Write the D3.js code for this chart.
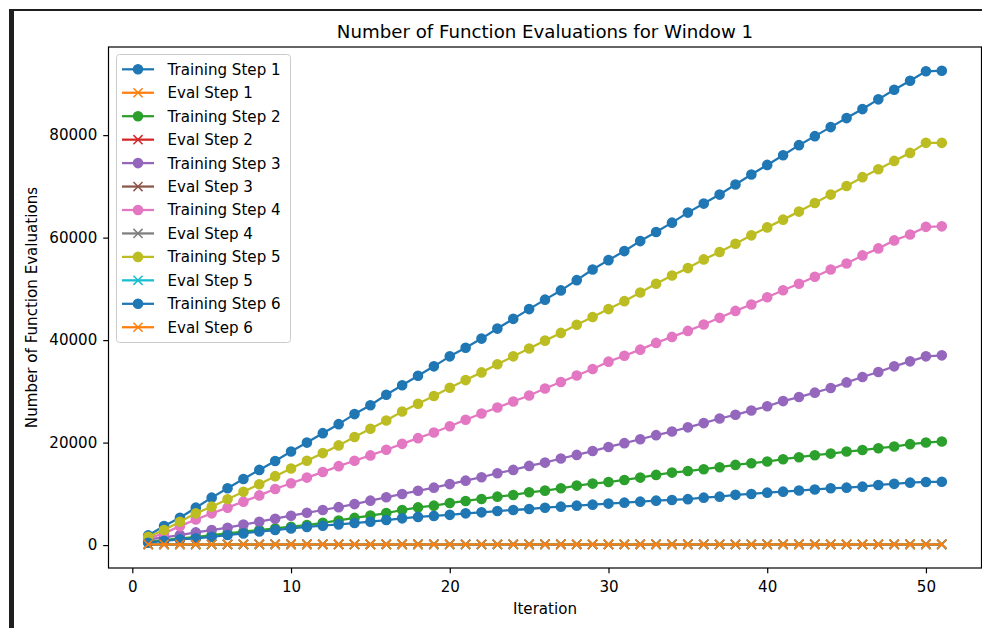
<!DOCTYPE html>
<html>
<head>
<meta charset="utf-8">
<script src="https://cdn.jsdelivr.net/npm/d3@7"></script>
<style>
  body { margin: 0; background: #fff; }
  svg { display: block; font-family: 'DejaVu Sans', sans-serif; }
</style>
</head>
<body>
<svg id="chart" width="982" height="628"></svg>
<script>
// values
const iterations = [1, 2, 3, 4, 5, 6, 7, 8, 9, 10, 11, 12, 13, 14, 15, 16, 17, 18, 19, 20,
  21, 22, 23, 24, 25, 26, 27, 28, 29, 30, 31, 32, 33, 34, 35, 36, 37, 38, 39, 40,
  41, 42, 43, 44, 45, 46, 47, 48, 49, 50, 51];

const trainingStep1 = [1890, 3716, 5346, 7302, 9259, 11084, 12900, 14670, 16400, 18256,
  20000, 21842, 23600, 25560, 27300, 29340, 31200, 33056, 34880, 36831,
  38500, 40294, 42250, 44146, 46050, 47900, 49700, 51700, 53790, 55609,
  57370, 59326, 61086, 62925, 64881, 66641, 68401, 70357, 72313, 74190,
  76088, 78044, 79805, 81565, 83326, 85086, 86983, 88860, 90622, 92460, 92578];

const trainingStep2 = [650, 978, 1304, 1560, 1956, 2282, 2608, 2934, 3260, 3586,
  3912, 4350, 4800, 5300, 5750, 6250, 6846, 7350, 7694, 8200,
  8606, 8998, 9454, 9780, 10302, 10628, 11084, 11606, 12000, 12300,
  12714, 13170, 13692, 14148, 14450, 14800, 15191, 15648, 15974, 16300,
  16756, 17148, 17539, 17850, 18250, 18550, 18908, 19227, 19697, 20010, 20205];

const trainingStep3 = [1110, 1500, 1956, 2478, 2934, 3390, 4000, 4564, 5150, 5737,
  6300, 6846, 7400, 8000, 8671, 9324, 9976, 10600, 11208, 11900,
  12577, 13242, 14025, 14670, 15452, 16098, 16900, 17604, 18350, 19150,
  19893, 20650, 21450, 22161, 22980, 23804, 24700, 25428, 26270, 27100,
  28100, 28890, 29750, 30650, 31746, 32802, 33780, 34876, 35853, 36831, 37027];

const trainingStep4 = [1300, 2290, 3700, 5000, 6194, 7300, 8476, 9700, 10954, 12062,
  13170, 14250, 15400, 16450, 17500, 18600, 19756, 20870, 21966, 23200,
  24450, 25683, 26856, 28030, 29200, 30550, 31824, 33100, 34350, 35795,
  36950, 38142, 39453, 40627, 41800, 43050, 44350, 45700, 46944, 48372,
  49741, 50993, 52362, 53790, 54964, 56528, 57898, 59462, 60600, 62100, 62200];

const trainingStep5 = [1624, 2934, 4564, 6194, 7498, 8950, 10400, 11866, 13450, 14950,
  16450, 17950, 19450, 21100, 22700, 24313, 26073, 27580, 29100, 30700,
  32200, 33703, 35300, 36832, 38350, 39900, 41408, 43000, 44500, 46050,
  47600, 49300, 50993, 52600, 54053, 55746, 57182, 58800, 60440, 62000,
  63510, 65075, 66758, 68400, 70084, 71800, 73350, 74973, 76538, 78494, 78494];

const trainingStep6 = [450, 841, 1110, 1304, 1624, 1956, 2282, 2650, 2934, 3260,
  3550, 3781, 4042, 4300, 4564, 4890, 5216, 5500, 5700, 5900,
  6194, 6390, 6650, 6846, 7042, 7298, 7498, 7694, 7890, 8100,
  8280, 8476, 8671, 8802, 8960, 9260, 9454, 9800, 9976, 10230,
  10432, 10650, 10850, 11084, 11208, 11404, 11736, 11950, 12186, 12323, 12350];

// all six eval series sit on the same flat line near zero
const evalCounts = [150, 150, 150, 150, 150, 150, 150, 150, 150, 150,
  150, 150, 150, 150, 150, 150, 150, 150, 150, 150,
  150, 150, 150, 150, 150, 150, 150, 150, 150, 150,
  150, 150, 150, 150, 150, 150, 150, 150, 150, 150,
  150, 150, 150, 150, 150, 150, 150, 150, 150, 150, 150];

const seriesNames = ['Training Step 1', 'Eval Step 1', 'Training Step 2', 'Eval Step 2',
  'Training Step 3', 'Eval Step 3', 'Training Step 4', 'Eval Step 4',
  'Training Step 5', 'Eval Step 5', 'Training Step 6', 'Eval Step 6'];
const seriesValues = [trainingStep1, evalCounts, trainingStep2, evalCounts,
  trainingStep3, evalCounts, trainingStep4, evalCounts,
  trainingStep5, evalCounts, trainingStep6, evalCounts];

const xTicks = [0, 10, 20, 30, 40, 50];
const yTicks = [0, 20000, 40000, 60000, 80000];

const tab10 = ['#1f77b4', '#ff7f0e', '#2ca02c', '#d62728', '#9467bd',
  '#8c564b', '#e377c2', '#7f7f7f', '#bcbd22', '#17becf'];

const series = seriesNames.map((name, i) => ({
  name: name,
  marker: name.startsWith('Training') ? 'o' : 'x',
  color: tab10[i % 10],
  values: iterations.map((it, j) => ({x: it, y: seriesValues[i][j]}))
}));

var margin = {top: 47, right: 0.5, bottom: 60, left: 108.5},
    width = 982 - margin.left - margin.right,
    height = 628 - margin.top - margin.bottom;

const FONT = 15.1, TITLE_FONT = 18.2;
const LINE_W = 2.27, MARK_R = 4.55, MARK_EDGE = 1.51;

const svg = d3.select('#chart');

// dark frame from the screenshot
svg.append('rect').attr('x', 9).attr('y', 9).attr('width', 5).attr('height', 619).attr('fill', '#1e1e1e');
svg.append('rect').attr('x', 9).attr('y', 9).attr('width', 973).attr('height', 2).attr('fill', '#1e1e1e');

const allY = seriesValues.flat();
const yMin = d3.min(allY), yMax = d3.max(allY);
const yPad = (yMax - yMin) * 0.05;
const xPad = (d3.max(iterations) - d3.min(iterations)) * 0.05;

const x = d3.scaleLinear()
    .domain([d3.min(iterations) - xPad, d3.max(iterations) + xPad])
    .range([0, width]);

const y = d3.scaleLinear()
    .domain([yMin - yPad, yMax + yPad])
    .range([height, 0]);

const g = svg.append('g')
    .attr('transform', 'translate(' + margin.left + ',' + margin.top + ')');

const xAxis = d3.axisBottom(x).tickValues(xTicks).tickSize(5.3).tickPadding(8.3).tickSizeOuter(0);
const yAxis = d3.axisLeft(y).tickValues(yTicks).tickSize(5.3).tickPadding(5.9).tickSizeOuter(0)
    .tickFormat(d3.format('d'));

const gx = g.append('g')
    .attr('transform', 'translate(0,' + height + ')')
    .call(xAxis);
const gy = g.append('g').call(yAxis);

[gx, gy].forEach(ax => {
  ax.select('.domain').remove();
  ax.selectAll('line').attr('stroke', '#000').attr('stroke-width', 1.2);
  ax.selectAll('text').attr('fill', '#000').attr('font-size', FONT)
    .attr('font-family', "'DejaVu Sans', sans-serif");
});

const line = d3.line().x(d => x(d.x)).y(d => y(d.y));

const plot = g.append('g');
const crossPath = s => 'M' + (-s) + ',' + (-s) + 'L' + s + ',' + s + 'M' + (-s) + ',' + s + 'L' + s + ',' + (-s);

series.forEach(s => {
  const sg = plot.append('g');
  sg.append('path')
    .datum(s.values)
    .attr('d', line)
    .attr('fill', 'none')
    .attr('stroke', s.color)
    .attr('stroke-width', LINE_W)
    .attr('stroke-linejoin', 'round')
    .attr('stroke-linecap', 'square');
  if (s.marker === 'o') {
    sg.selectAll('circle')
        .data(s.values)
      .enter().append('circle')
        .attr('cx', d => x(d.x))
        .attr('cy', d => y(d.y))
        .attr('r', MARK_R)
        .attr('fill', s.color)
        .attr('stroke', s.color)
        .attr('stroke-width', MARK_EDGE);
  } else {
    sg.selectAll('path.mk')
        .data(s.values)
      .enter().append('path')
        .attr('class', 'mk')
        .attr('transform', d => 'translate(' + x(d.x) + ',' + y(d.y) + ')')
        .attr('d', crossPath(MARK_R))
        .attr('fill', 'none')
        .attr('stroke', s.color)
        .attr('stroke-width', MARK_EDGE);
  }
});

// spines
g.append('rect')
    .attr('width', width).attr('height', height)
    .attr('fill', 'none').attr('stroke', '#000').attr('stroke-width', 1.2);

// title and axis labels
svg.append('text')
    .attr('x', margin.left + width / 2).attr('y', 38.3)
    .attr('text-anchor', 'middle').attr('font-size', TITLE_FONT).attr('fill', '#000')
    .text('Number of Function Evaluations for Window 1');

svg.append('text')
    .attr('x', margin.left + width / 2).attr('y', 614)
    .attr('text-anchor', 'middle').attr('font-size', FONT).attr('fill', '#000')
    .text('Iteration');

svg.append('text')
    .attr('transform', 'translate(37,' + (margin.top + height / 2) + ') rotate(-90)')
    .attr('text-anchor', 'middle').attr('font-size', FONT).attr('fill', '#000')
    .text('Number of Function Evaluations');

// legend
const legend = svg.append('g').attr('transform', 'translate(116.5,54.5)');
legend.append('rect')
    .attr('width', 174).attr('height', 288).attr('rx', 3)
    .attr('fill', '#fff').attr('fill-opacity', 0.8)
    .attr('stroke', '#cccccc').attr('stroke-width', 1);

const rowH = 23.45;
series.forEach((s, i) => {
  const cy = 14.8 + i * rowH;
  const row = legend.append('g').attr('transform', 'translate(0,' + cy + ')');
  row.append('line')
    .attr('x1', 5.5).attr('x2', 37.5)
    .attr('stroke', s.color).attr('stroke-width', LINE_W);
  if (s.marker === 'o') {
    row.append('circle').attr('cx', 21.5).attr('r', MARK_R)
      .attr('fill', s.color).attr('stroke', s.color).attr('stroke-width', MARK_EDGE);
  } else {
    row.append('path').attr('transform', 'translate(21.5,0)')
      .attr('d', crossPath(MARK_R)).attr('fill', 'none')
      .attr('stroke', s.color).attr('stroke-width', MARK_EDGE);
  }
  row.append('text')
    .attr('x', 51).attr('y', 5.4)
    .attr('font-size', FONT).attr('fill', '#000')
    .text(s.name);
});
</script>
</body>
</html>
